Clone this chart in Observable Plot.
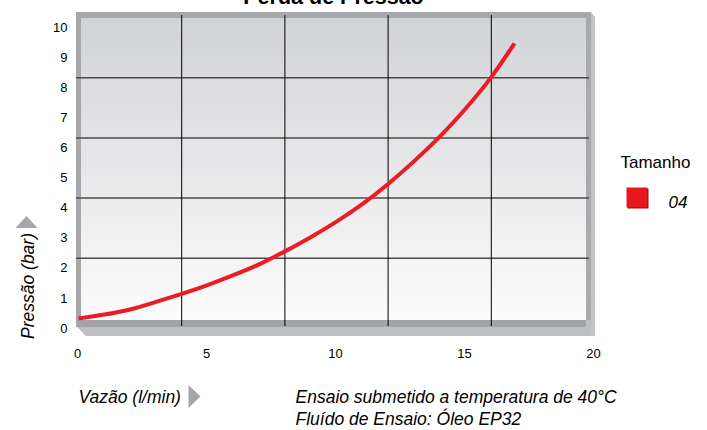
<!DOCTYPE html>
<html>
<head>
<meta charset="utf-8">
<script src="https://cdn.jsdelivr.net/npm/d3@7"></script>
<script src="https://cdn.jsdelivr.net/npm/@observablehq/plot@0.6"></script>
<style>
  body { margin: 0; background: #fff; }
  #chart { width: 707px; height: 430px; overflow: hidden; }
</style>
</head>
<body>
<div id="chart"></div>
<script>
// ---- data ----
const flow     = [0, 1, 2, 3, 4, 5, 6, 7, 8, 9, 10, 11, 12, 13, 14, 15, 16, 16.9];
const pressure = [0, 0.13, 0.3, 0.55, 0.82, 1.11, 1.44, 1.8, 2.23, 2.7, 3.22, 3.8, 4.47, 5.22, 6.04, 6.97, 8.02, 9.14];
const xTicks = [0, 5, 10, 15, 20];
const yTicks = [0, 1, 2, 3, 4, 5, 6, 7, 8, 9, 10];
const xGrid = [4, 8, 12, 16];
const yGrid = [2, 4, 6, 8];
const titleText = "Perda de Pressão";
const xLabel = "Vazão (l/min)";
const yLabel = "Pressão (bar)";
const captionLines = ["Ensaio submetido a temperatura de 40°C", "Fluído de Ensaio: Óleo EP32"];
const legendTitle = "Tamanho";
const seriesName = "04";

const curveData = flow.map((f, i) => ({flow: f, pressure: pressure[i]}));
const FONT = '"Liberation Sans Narrow", "Arial Narrow", "Liberation Sans", Arial, sans-serif';

// 3D box walls behind the plot area, derived from the frame dimensions
function chartWall(index, scales, values, dims) {
  const L = dims.marginLeft, T = dims.marginTop;
  const R = dims.width - dims.marginRight, B = dims.height - dims.marginBottom;
  const g = d3.create("svg:g");
  const grad = g.append("defs").append("linearGradient")
    .attr("id", "wallGrad").attr("x1", 0).attr("y1", 0).attr("x2", 0).attr("y2", 1);
  grad.append("stop").attr("offset", "0%").attr("stop-color", "#d2d3d6");
  grad.append("stop").attr("offset", "100%").attr("stop-color", "#fcfcfc");
  // right side wall
  g.append("path")
    .attr("d", `M${R-8},${T-5} L${R-3},${T-5} L${R+1},${T} L${R+1},${B+18} L${R-8},${B+18} Z`)
    .attr("fill", "#c2c3c6");
  g.append("rect").attr("x", R-8).attr("y", T-5).attr("width", 5).attr("height", B-T+23).attr("fill", "#a9aaae");
  // top and left strips
  g.append("rect").attr("x", L-2).attr("y", T-5).attr("width", R-L-5).attr("height", 6).attr("fill", "#a7a8ac");
  g.append("rect").attr("x", L-2).attr("y", T-5).attr("width", 5).attr("height", B-T+13).attr("fill", "#a7a8ac");
  // back wall
  g.append("rect").attr("x", L+3).attr("y", T+1).attr("width", R-8-(L+3)).attr("height", B+2-(T+1))
    .attr("fill", "url(#wallGrad)");
  // floor
  g.append("path")
    .attr("d", `M${L-2},${B+2} L${R-3},${B+2} L${R-3},${B+18} L${L+8},${B+18} L${L-2},${B+8} Z`)
    .attr("fill", "#bebfc2");
  g.append("rect").attr("x", L-2).attr("y", B+2).attr("width", R-8-(L-2)).attr("height", 7).attr("fill", "#a3a4a8");
  return g.node();
}

const triUp = {draw(ctx) { ctx.moveTo(-11, 6); ctx.lineTo(0, -6); ctx.lineTo(11, 6); ctx.closePath(); }};
const triRight = {draw(ctx) { ctx.moveTo(-6, -11.5); ctx.lineTo(6, 0); ctx.lineTo(-6, 11.5); ctx.closePath(); }};
const bevelSquare = {draw(ctx) { ctx.rect(-10.5, -10, 21, 20); }};

const chart = Plot.plot({
  width: 707,
  height: 430,
  marginLeft: 78,
  marginRight: 113,
  marginTop: 17,
  marginBottom: 112,
  style: {fontFamily: FONT, background: "#fff", color: "#000", overflow: "visible"},
  x: {domain: [0, 20]},
  y: {domain: [0, 10]},
  marks: [
    chartWall,
    Plot.ruleY(yGrid, {stroke: "#4a4a4a", strokeWidth: 1.5, insetLeft: -2, insetRight: 5}),
    Plot.ruleX(xGrid, {stroke: "#000", strokeWidth: 1, insetTop: -2, insetBottom: -8}),
    Plot.line(curveData, {x: "flow", y: "pressure", stroke: "#ed1c24", strokeWidth: 4, curve: "natural", strokeLinecap: "butt"}),
    Plot.axisX(xTicks, {tickSize: 0, tickPadding: 30, fontSize: 13, dx: -1, label: null}),
    Plot.axisY(yTicks, {tickSize: 0, tickPadding: 11, fontSize: 13, dy: 10, label: null}),
    // title (cropped at top as in reference)
    Plot.text([titleText], {frameAnchor: "top", dx: -3, dy: -14, textAnchor: "middle", lineAnchor: "bottom", fontSize: 21.5, fontWeight: "bold"}),
    // y label with arrow
    Plot.text([yLabel], {frameAnchor: "left", dx: -45, dy: 118, rotate: -90, textAnchor: "middle", lineAnchor: "bottom", fontSize: 17.5, fontStyle: "italic"}),
    Plot.dot([0], {frameAnchor: "left", dx: -52, dy: 54, symbol: triUp, fill: "#a6a7ab", stroke: "none"}),
    // x label with arrow
    Plot.text([xLabel], {frameAnchor: "bottom-left", dx: 0, dy: 84, textAnchor: "start", lineAnchor: "bottom", fontSize: 17.5, fontStyle: "italic"}),
    Plot.dot([0], {frameAnchor: "bottom-left", dx: 116, dy: 78, symbol: triRight, fill: "#a6a7ab", stroke: "none"}),
    // caption
    Plot.text([captionLines[0]], {frameAnchor: "bottom-left", dx: 217, dy: 84, textAnchor: "start", lineAnchor: "bottom", fontSize: 17.5, fontStyle: "italic"}),
    Plot.text([captionLines[1]], {frameAnchor: "bottom-left", dx: 217, dy: 106, textAnchor: "start", lineAnchor: "bottom", fontSize: 17.5, fontStyle: "italic"}),
    // legend
    Plot.text([legendTitle], {frameAnchor: "top-right", dx: 26, dy: 150, textAnchor: "start", lineAnchor: "bottom", fontSize: 17}),
    Plot.dot([0], {frameAnchor: "top-right", dx: 43.5, dy: 181, symbol: bevelSquare, fill: "#8c0a0e", stroke: "none"}),
    Plot.dot([0], {frameAnchor: "top-right", dx: 42.5, dy: 180, symbol: bevelSquare, fill: "#e8161d", stroke: "none"}),
    Plot.text([seriesName], {frameAnchor: "top-right", dx: 74, dy: 190, textAnchor: "start", lineAnchor: "bottom", fontSize: 17, fontStyle: "italic"})
  ]
});
document.getElementById("chart").append(chart);
</script>
</body>
</html>
